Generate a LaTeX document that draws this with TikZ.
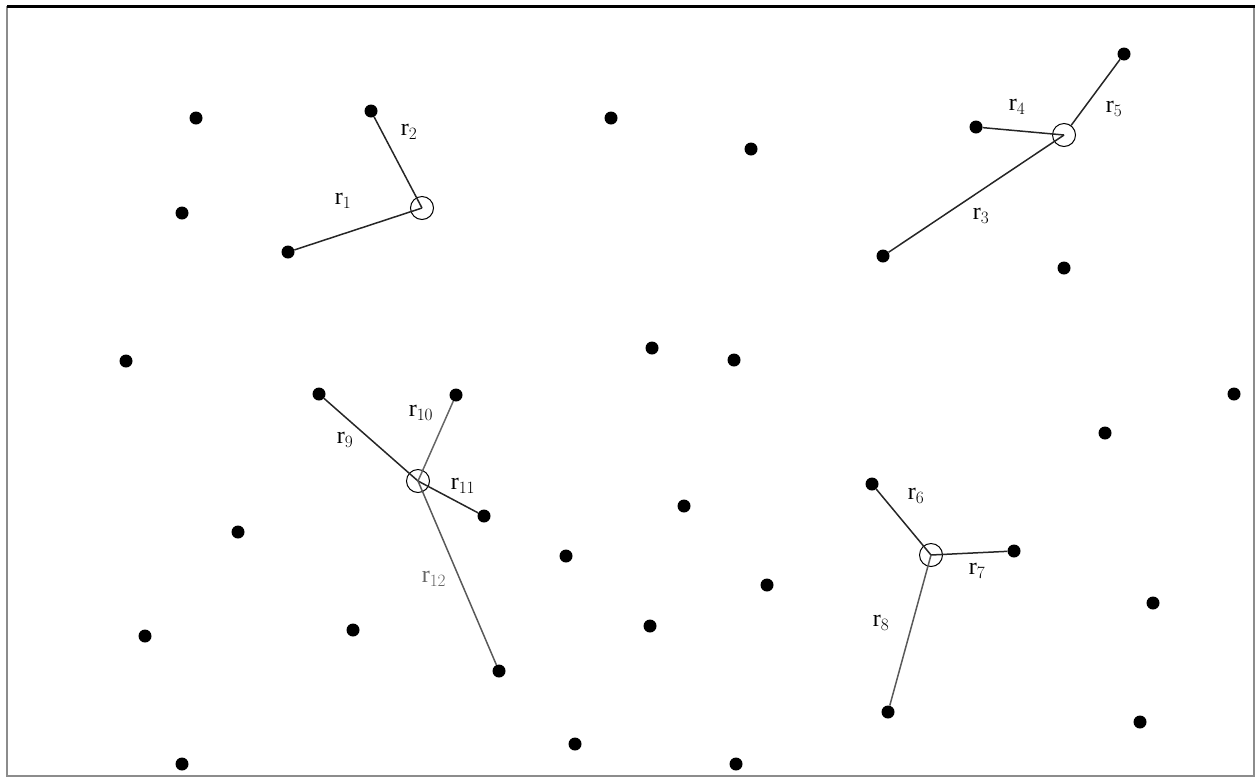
\documentclass[tikz,border=0pt]{standalone}
\usepackage{fontspec}
\setmainfont{Liberation Serif}
\begin{document}
\begin{tikzpicture}[x=1pt,y=-1pt,
  pt/.style={circle,fill=black,inner sep=0pt,minimum size=13pt},
  hub/.style={circle,draw=black,line width=1pt,fill=white,inner sep=0pt,minimum size=23pt},
  lnk/.style={draw=black!85,line width=1.5pt},
  lab/.style={font=\fontsize{24}{24}\selectfont,inner sep=0pt}]
\useasboundingbox (0,0) rectangle (1260,780);
\draw[black!45,line width=1.2pt] (7,6) -- (7,776) -- (1254,776) -- (1254,6);
\draw[black,line width=3pt] (7,6) -- (1255,6);
% dots
\foreach \n/\x/\y in {a/196/118,b/182/213,c/611/118,d/751/149,e/1064/268,f/126/361,g/652/348,h/734/360,i/1234/394,j/1105/433,k/238/532,l/684/506,m/566/556,n/767/585,o/353/630,p/145/636,q/650/626,r/1153/603,s/1140/722,t/182/764,u/575/744,v/736/764}
  \node[pt] (\n) at (\x,\y) {};
% group 1
\node[pt] (e1) at (288,252) {};
\node[pt] (e2) at (371,111) {};
\coordinate (c1) at (422,208);
\node[hub] (h1) at (c1) {};
\draw[lnk] (e1) -- (c1);
\draw[lnk] (e2) -- (c1);
\node[lab] at (343,201) {r$_1$};
\node[lab] at (409,132) {r$_2$};
% group 2
\node[pt] (e3) at (883,256) {};
\node[pt] (e4) at (976,127) {};
\node[pt] (e5) at (1124,54) {};
\coordinate (c2) at (1064,135);
\node[hub] (h2) at (c2) {};
\draw[lnk] (e3) -- (c2);
\draw[lnk] (e4) -- (c2);
\draw[lnk] (e5) -- (h2);
\node[lab] at (981,216) {r$_3$};
\node[lab] at (1017,107) {r$_4$};
\node[lab] at (1114,109) {r$_5$};
% group 3
\node[pt] (e9) at (319,394) {};
\node[pt] (e10) at (456,395) {};
\node[pt] (e11) at (484,516) {};
\node[pt] (e12) at (499,671) {};
\coordinate (c3) at (418,481);
\node[hub] (h3) at (c3) {};
\draw[lnk] (e9) -- (c3);
\draw[lnk,draw=black!60] (e10) -- (c3);
\draw[lnk] (e11) -- (c3);
\draw[lnk,draw=black!65] (e12) -- (c3);
\node[lab] at (345,440) {r$_9$};
\node[lab] at (421,413) {r$_{10}$};
\node[lab] at (463,486) {r$_{11}$};
\node[lab,text=black!60] at (434,579) {r$_{12}$};
% group 4
\node[pt] (e6) at (872,484) {};
\node[pt] (e7) at (1014,551) {};
\node[pt] (e8) at (888,712) {};
\coordinate (c4) at (931,555);
\node[hub] (h4) at (c4) {};
\draw[lnk] (e6) -- (c4);
\draw[lnk] (e7) -- (c4);
\draw[lnk,draw=black!65] (e8) -- (c4);
\node[lab] at (916,496) {r$_6$};
\node[lab] at (977,571) {r$_7$};
\node[lab] at (881,623) {r$_8$};
\end{tikzpicture}
\end{document}
